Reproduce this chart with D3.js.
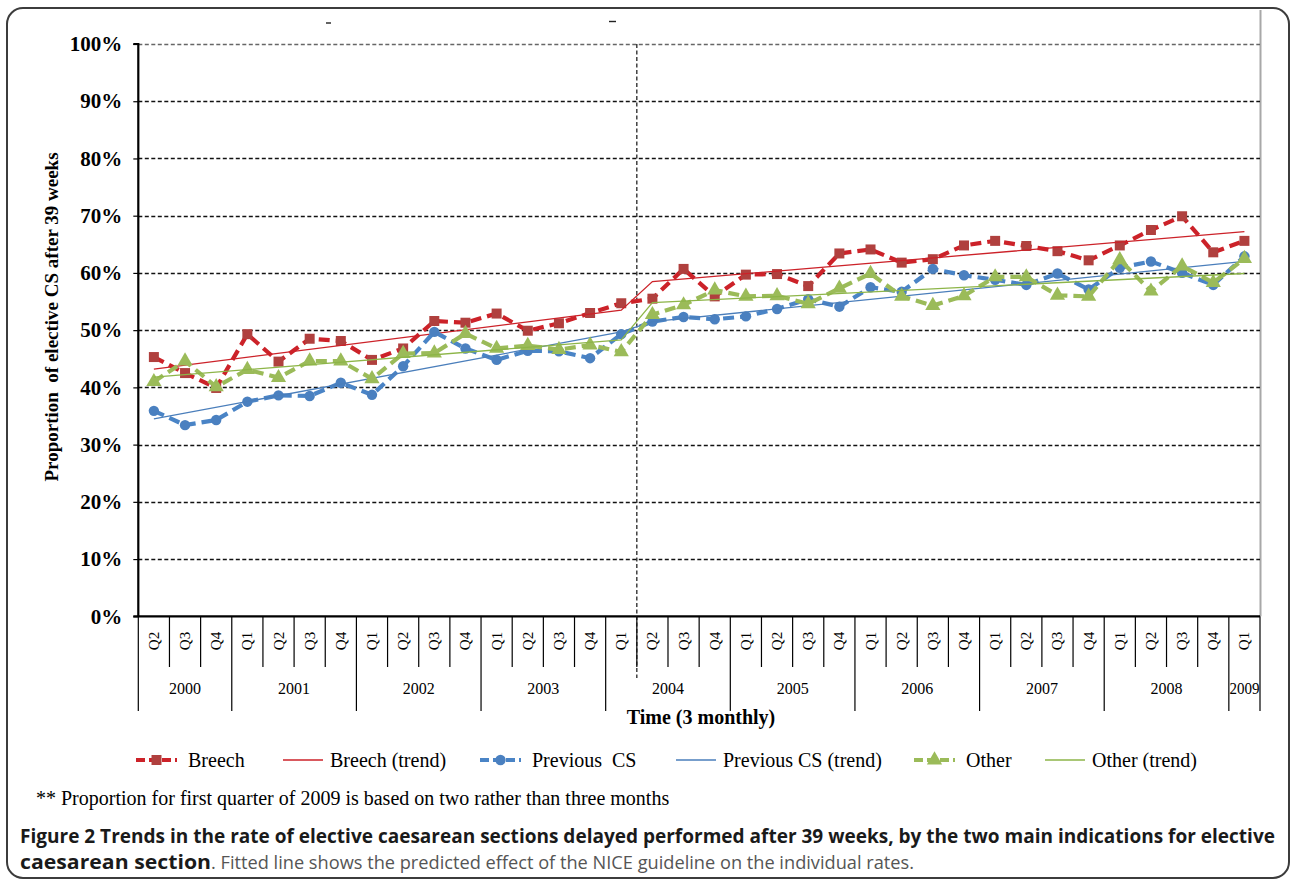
<!DOCTYPE html>
<html>
<head>
<meta charset="utf-8">
<script src="https://cdn.jsdelivr.net/npm/d3@7"></script>
<style>
  html, body { margin: 0; padding: 0; background: #fff; }
  svg { display: block; }
</style>
</head>
<body>
<svg id="chart" width="1292" height="882"></svg>
<script>
// Quarterly categories, 2000 Q2 to 2009 Q1
const quarterLabels = ["Q2","Q3","Q4",
  "Q1","Q2","Q3","Q4", "Q1","Q2","Q3","Q4", "Q1","Q2","Q3","Q4",
  "Q1","Q2","Q3","Q4", "Q1","Q2","Q3","Q4", "Q1","Q2","Q3","Q4",
  "Q1","Q2","Q3","Q4", "Q1","Q2","Q3","Q4", "Q1"];
const yearLabels = ["2000","2001","2002","2003","2004","2005","2006","2007","2008","2009"];

// Proportion (%) of elective CS performed after 39 weeks
const breech = [45.3,42.5,39.9,49.3,44.5,48.5,48.1,44.8,46.8,51.6,51.3,52.9,49.9,51.2,53.0,
  54.7,55.5,60.7,55.9,59.7,59.8,57.7,63.4,64.1,61.8,62.4,64.8,65.6,64.7,63.8,62.2,64.8,67.5,69.9,63.6,65.6];
const previousCS = [35.9,33.4,34.3,37.5,38.6,38.5,40.8,38.7,43.7,49.7,46.8,44.8,46.4,46.3,45.1,
  49.3,51.5,52.3,51.9,52.4,53.7,55.4,54.1,57.5,56.7,60.7,59.6,58.8,57.9,59.9,57.1,60.9,62.0,60.0,57.9,62.9];
const other = [41.0,44.6,40.1,43.1,41.7,44.6,44.6,41.5,45.9,46.0,49.4,46.8,47.3,46.6,47.4,
  46.2,52.7,54.4,57.0,55.9,56.0,54.6,57.3,59.9,55.9,54.3,56.0,59.3,59.3,56.1,55.9,62.3,56.8,61.2,58.3,62.5];

// Fitted (segmented) trend: values at the ends of the pre- and post-guideline segments
const trendIndex = [0, 15, 16, 35];
const breechTrend = [43.2, 53.5, 58.5, 67.2];
const previousCSTrend = [34.5, 49.7, 51.5, 62.0];
const otherTrend = [41.8, 48.3, 54.8, 59.9];

// Guideline introduced between these two quarters
const breakAfterIndex = 15;

const yTicks = [0,10,20,30,40,50,60,70,80,90,100];

const svg = d3.select("#chart");
const serif = "'Liberation Serif', 'Times New Roman', serif";
const sans = "'Open Sans', 'Noto Sans', sans-serif";

const plot = { left: 138.3, right: 1260, top: 44, bottom: 616.3 };

const x = d3.scaleBand()
  .domain(d3.range(quarterLabels.length))
  .range([plot.left, plot.right])
  .paddingInner(0).paddingOuter(0);
const xc = i => x(i) + x.bandwidth() / 2;
const y = d3.scaleLinear().domain([0, 100]).range([plot.bottom, plot.top]);

// Outer figure frame
svg.append("rect")
  .attr("x", 7).attr("y", 8).attr("width", 1282).attr("height", 870)
  .attr("rx", 16).attr("ry", 16)
  .attr("fill", "none").attr("stroke", "#3c3c3c").attr("stroke-width", 2);

// Remnants of a clipped heading
svg.append("line").attr("x1", 326).attr("x2", 331).attr("y1", 23).attr("y2", 23)
  .attr("stroke", "#222").attr("stroke-width", 1.4);
svg.append("line").attr("x1", 609).attr("x2", 616).attr("y1", 21.5).attr("y2", 21.5)
  .attr("stroke", "#222").attr("stroke-width", 1.4);

// Right border of plot area
svg.append("line")
  .attr("x1", plot.right + 0.5).attr("x2", plot.right + 0.5)
  .attr("y1", 10).attr("y2", plot.bottom)
  .attr("stroke", "#a8a8a8").attr("stroke-width", 2);

// Horizontal gridlines
svg.append("g").selectAll("line")
  .data(yTicks.filter(t => t > 0))
  .join("line")
  .attr("x1", plot.left).attr("x2", plot.right)
  .attr("y1", d => Math.round(y(d)) + 0.5).attr("y2", d => Math.round(y(d)) + 0.5)
  .attr("stroke", d => d === 100 ? "#666" : "#111")
  .attr("stroke-width", 1.3)
  .attr("stroke-dasharray", "4,2.5");

// Y axis with outward ticks
const yAxis = d3.axisLeft(y).tickValues(yTicks).tickSize(5).tickFormat(d => d + "%");
const gy = svg.append("g").attr("transform", `translate(${plot.left},0)`).call(yAxis);
gy.select(".domain").attr("stroke", "#000").attr("stroke-width", 2.2)
  .attr("d", `M-5,${plot.top}H0V${plot.bottom}`);
gy.selectAll(".tick line").attr("stroke", "#000").attr("stroke-width", 1.2);
gy.selectAll(".tick text")
  .attr("x", -16)
  .attr("font-family", serif).attr("font-size", 21).attr("font-weight", "bold")
  .attr("fill", "#000");

// Y axis title
svg.append("text")
  .attr("transform", "translate(58,317) rotate(-90)")
  .attr("text-anchor", "middle")
  .attr("font-family", serif).attr("font-size", 19).attr("font-weight", "bold")
  .style("white-space", "pre")
  .text("Proportion  of elective CS after 39 weeks");

// X axis baseline
svg.append("line")
  .attr("x1", plot.left - 5).attr("x2", plot.right)
  .attr("y1", plot.bottom).attr("y2", plot.bottom)
  .attr("stroke", "#000").attr("stroke-width", 2.2);

// Category dividers: short ones between quarters, long ones between years
const yearStarts = [0].concat(d3.range(1, quarterLabels.length).filter(i => quarterLabels[i] === "Q1"));
const boundaries = d3.range(quarterLabels.length + 1);
svg.append("g").selectAll("line")
  .data(boundaries)
  .join("line")
  .attr("x1", i => i < quarterLabels.length ? x(i) : plot.right)
  .attr("x2", i => i < quarterLabels.length ? x(i) : plot.right)
  .attr("y1", plot.bottom)
  .attr("y2", i => (yearStarts.includes(i) || i === quarterLabels.length) ? 711 : 667)
  .attr("stroke", "#000").attr("stroke-width", 1.2);

// Quarter labels (rotated)
svg.append("g").selectAll("text")
  .data(quarterLabels)
  .join("text")
  .attr("transform", (d, i) => `translate(${xc(i) + 5},641) rotate(-90)`)
  .attr("text-anchor", "middle")
  .attr("font-family", serif).attr("font-size", 15)
  .text(d => d);

// Year labels centred on their spans
const yearSpans = yearStarts.map((s, k) => ({
  label: yearLabels[k],
  start: s,
  end: k + 1 < yearStarts.length ? yearStarts[k + 1] : quarterLabels.length
}));
svg.append("g").selectAll("text")
  .data(yearSpans)
  .join("text")
  .attr("x", d => (x(d.start) + (d.end < quarterLabels.length ? x(d.end) : plot.right)) / 2)
  .attr("y", 694)
  .attr("text-anchor", "middle")
  .attr("font-family", serif).attr("font-size", 16)
  .attr("textLength", d => d.end - d.start === 1 ? 30 : null)
  .attr("lengthAdjust", "spacingAndGlyphs")
  .text(d => d.label);

// X axis title
svg.append("text")
  .attr("x", 701).attr("y", 724)
  .attr("text-anchor", "middle")
  .attr("font-family", serif).attr("font-size", 20).attr("font-weight", "bold")
  .text("Time (3 monthly)");

// Guideline marker: dashed vertical between pre and post periods
svg.append("line")
  .attr("x1", x(breakAfterIndex + 1)).attr("x2", x(breakAfterIndex + 1))
  .attr("y1", plot.top).attr("y2", 678)
  .attr("stroke", "#111").attr("stroke-width", 1.2)
  .attr("stroke-dasharray", "4,2.5");

// Series definitions
const series = [
  { name: "Breech", values: breech, trend: breechTrend, line: "#cc2229", marker: "#b0403e", trendColor: "#cc2229", shape: "square" },
  { name: "Previous CS", values: previousCS, trend: previousCSTrend, line: "#4a84c6", marker: "#4a80c0", trendColor: "#4a7ebb", shape: "circle" },
  { name: "Other", values: other, trend: otherTrend, line: "#9bbb59", marker: "#9bbb59", trendColor: "#8db548", shape: "triangle" }
];

const lineGen = d3.line().x((d, i) => xc(i)).y(d => y(d));
const trendGen = d3.line().x(d => xc(d.i)).y(d => y(d.v));

const symbolFor = s => s === "square" ? d3.symbol(d3.symbolSquare, 100)
  : s === "circle" ? d3.symbol(d3.symbolCircle, 85)
  : d3.symbol(d3.symbolTriangle, 100);

const layer = svg.append("g");
series.forEach(s => {
  layer.append("path")
    .datum(s.values)
    .attr("d", lineGen)
    .attr("fill", "none")
    .attr("stroke", s.line).attr("stroke-width", 4.2)
    .attr("stroke-dasharray", "11,6");
  layer.append("g").selectAll("path")
    .data(s.values)
    .join("path")
    .attr("transform", (d, i) => `translate(${xc(i)},${y(d)})`)
    .attr("d", symbolFor(s.shape))
    .attr("fill", s.marker);
  layer.append("path")
    .datum(trendIndex.map((i, k) => ({ i, v: s.trend[k] })))
    .attr("d", trendGen)
    .attr("fill", "none")
    .attr("stroke", s.trendColor).attr("stroke-width", 1.3);
});

// Legend
const legendY = 760;
const legendItems = [
  { label: "Breech", s: series[0], trend: false, x0: 136 },
  { label: "Breech (trend)", s: series[0], trend: true, x0: 283 },
  { label: "Previous  CS", s: series[1], trend: false, x0: 480 },
  { label: "Previous CS (trend)", s: series[1], trend: true, x0: 676 },
  { label: "Other", s: series[2], trend: false, x0: 914 },
  { label: "Other (trend)", s: series[2], trend: true, x0: 1045 }
];
const lg = svg.append("g");
legendItems.forEach(it => {
  const g = lg.append("g");
  if (it.trend) {
    g.append("line").attr("x1", it.x0).attr("x2", it.x0 + 40)
      .attr("y1", legendY).attr("y2", legendY)
      .attr("stroke", it.s.trendColor).attr("stroke-width", 1.5);
  } else {
    g.append("line").attr("x1", it.x0).attr("x2", it.x0 + 41)
      .attr("y1", legendY).attr("y2", legendY)
      .attr("stroke", it.s.line).attr("stroke-width", 4.2)
      .attr("stroke-dasharray", "9,4");
    g.append("path")
      .attr("transform", `translate(${it.x0 + 20.5},${legendY})`)
      .attr("d", symbolFor(it.s.shape))
      .attr("fill", it.s.marker);
  }
  g.append("text")
    .attr("x", it.x0 + (it.trend ? 47 : 52)).attr("y", legendY + 7)
    .attr("font-family", serif).attr("font-size", 20)
    .style("white-space", "pre")
    .text(it.label);
});

// Footnote
svg.append("text")
  .attr("x", 36).attr("y", 805)
  .attr("font-family", serif).attr("font-size", 20)
  .text("** Proportion for first quarter of 2009 is based on two rather than three months");

// Caption
svg.append("text")
  .attr("x", 20).attr("y", 843)
  .attr("font-family", sans).attr("font-size", 19).attr("font-weight", "bold")
  .attr("fill", "#1a1a1a")
  .attr("textLength", 1255).attr("lengthAdjust", "spacingAndGlyphs")
  .text("Figure 2 Trends in the rate of elective caesarean sections delayed performed after 39 weeks, by the two main indications for elective");
const cap2 = svg.append("text")
  .attr("x", 20).attr("y", 869)
  .attr("font-family", sans).attr("font-size", 19);
cap2.append("tspan").attr("font-weight", "bold").attr("fill", "#1a1a1a")
  .attr("textLength", 191).attr("lengthAdjust", "spacingAndGlyphs")
  .text("caesarean section");
cap2.append("tspan").attr("fill", "#555")
  .attr("textLength", 703).attr("lengthAdjust", "spacingAndGlyphs")
  .text(". Fitted line shows the predicted effect of the NICE guideline on the individual rates.");
</script>
</body>
</html>
